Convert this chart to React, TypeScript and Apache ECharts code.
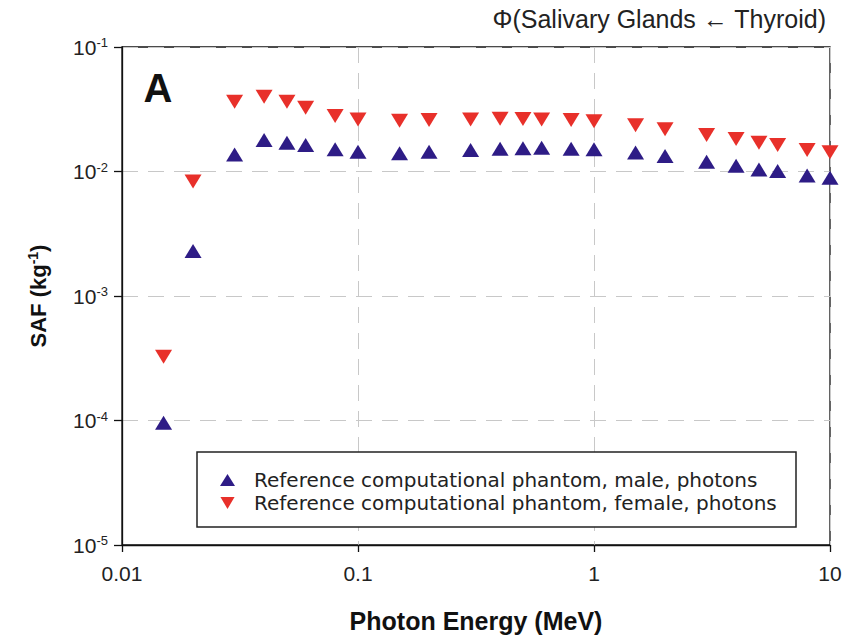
import React, { useEffect, useRef } from "react";
import * as echarts from "echarts";

const energies = [0.015, 0.02, 0.03, 0.04, 0.05, 0.06, 0.08, 0.1, 0.15, 0.2, 0.3, 0.4, 0.5, 0.6, 0.8, 1, 1.5, 2, 3, 4, 5, 6, 8, 10];
const maleSAF = [9.6e-5, 2.3e-3, 0.0137, 0.0179, 0.0170, 0.0163, 0.0151, 0.0144, 0.0140, 0.0144, 0.0149, 0.0152, 0.0154, 0.0155, 0.0152, 0.0151, 0.0142, 0.0133, 0.0120, 0.0111, 0.0104, 0.0101, 0.0093, 0.0089];
const femaleSAF = [3.25e-4, 8.3e-3, 0.0364, 0.0399, 0.0364, 0.0325, 0.0279, 0.0262, 0.0256, 0.0259, 0.0262, 0.0265, 0.0264, 0.0262, 0.0259, 0.0253, 0.0235, 0.0218, 0.0196, 0.0182, 0.0170, 0.0163, 0.0149, 0.0143];

const xTickValues = [0.01, 0.1, 1, 10];
const xTickLabels = ["0.01", "0.1", "1", "10"];
const yTickValues = [1e-5, 1e-4, 1e-3, 1e-2, 1e-1];
const yTickExponents = ["-5", "-4", "-3", "-2", "-1"];

const seriesNames = [
  "Reference computational phantom, male, photons",
  "Reference computational phantom, female, photons",
];
const titleText = "\u03A6(Salivary Glands \u2190 Thyroid)";
const panelLabel = "A";
const xName = "Photon Energy (MeV)";

const nearestIdx = (arr: number[], v: number) => {
  let best = 0;
  let bd = Infinity;
  arr.forEach((a, i) => {
    const d = Math.abs(Math.log10(a) - Math.log10(v));
    if (d < bd) {
      bd = d;
      best = i;
    }
  });
  return { best, bd };
};

export default function App() {
  const ref = useRef<HTMLDivElement>(null);
  useEffect(() => {
    if (!ref.current) return;
    const chart = echarts.init(ref.current, undefined, { renderer: "svg" });
    const font = "'Liberation Sans', Arial, sans-serif";
    const option: any = {
      animation: false,
      backgroundColor: "#ffffff",
      grid: {
        left: 122,
        right: 18,
        top: 47,
        bottom: 98,
        show: true,
        borderColor: "#111",
        borderWidth: 1.3,
        backgroundColor: "transparent",
      },
      xAxis: {
        type: "log",
        logBase: 10,
        min: 0.01,
        max: 10,
        name: xName,
        nameLocation: "middle",
        nameGap: 63,
        nameTextStyle: { fontFamily: font, fontWeight: "bold", fontSize: 25, color: "#111" },
        axisLine: { show: true, lineStyle: { color: "#111", width: 1.3 } },
        axisTick: { show: true, length: 7, lineStyle: { color: "#111", width: 1.3 } },
        axisLabel: {
          margin: 18,
          fontFamily: font,
          fontSize: 21,
          color: "#222",
          formatter: (v: number) => {
            const r = nearestIdx(xTickValues, v);
            return r.bd < 0.01 ? xTickLabels[r.best] : "";
          },
        },
        splitLine: { show: true, lineStyle: { color: "#c8c8c8", type: [16, 10], width: 1 } },
        minorTick: { show: false },
        minorSplitLine: { show: false },
      },
      yAxis: {
        type: "log",
        logBase: 10,
        min: 1e-5,
        max: 0.1,
        name: "{b|SAF (kg}{s|-1}{b|)}",
        nameLocation: "middle",
        nameRotate: 90,
        nameGap: 72,
        nameTextStyle: {
          rich: {
            b: { fontFamily: font, fontWeight: "bold", fontSize: 22, color: "#111" },
            s: { fontFamily: font, fontWeight: "bold", fontSize: 14, color: "#111", verticalAlign: "bottom", padding: [0, 0, 10, 0] },
          },
        },
        axisLine: { show: true, lineStyle: { color: "#111", width: 1.3 } },
        axisTick: { show: true, length: 8, lineStyle: { color: "#111", width: 1.3 } },
        axisLabel: {
          margin: 14,
          formatter: (v: number) => {
            const r = nearestIdx(yTickValues, v);
            return r.bd < 0.01 ? `{b|10}{s|${yTickExponents[r.best]}}` : "";
          },
          rich: {
            b: { fontFamily: font, fontSize: 21, color: "#222" },
            s: { fontFamily: font, fontSize: 13, color: "#222", verticalAlign: "bottom", padding: [0, 0, 9, 0] },
          },
        },
        splitLine: { show: true, lineStyle: { color: "#c8c8c8", type: [16, 10], width: 1 } },
        minorTick: { show: false },
        minorSplitLine: { show: false },
      },
      legend: {
        show: true,
        orient: "vertical",
        left: 215,
        top: 465,
        itemGap: 3,
        itemWidth: 15,
        itemHeight: 12,
        z: 20,
        data: seriesNames,
        textStyle: {
          fontFamily: "'DejaVu Sans', sans-serif",
          fontSize: 20,
          color: "#222",
          padding: [0, 0, 0, 14],
        },
      },
      graphic: [
        {
          type: "rect",
          z: 10,
          shape: { x: 197, y: 452, width: 599, height: 75 },
          style: { fill: "#ffffff", stroke: "#222", lineWidth: 1.5 },
        },
        {
          type: "text",
          z: 10,
          x: 826,
          y: 19,
          style: {
            text: titleText,
            fontFamily: font,
            fontSize: 25,
            fill: "#222",
            textAlign: "right",
            textVerticalAlign: "middle",
          },
        },
        {
          type: "text",
          z: 10,
          x: 158,
          y: 88,
          style: {
            text: panelLabel,
            fontFamily: font,
            fontWeight: "bold",
            fontSize: 40,
            fill: "#111",
            textAlign: "center",
            textVerticalAlign: "middle",
          },
        },
      ],
      series: [
        {
          name: seriesNames[0],
          type: "scatter",
          data: energies.map((e, i) => [e, maleSAF[i]]),
          symbol: "triangle",
          symbolSize: [17, 14],
          itemStyle: { color: "#2E1C86", opacity: 1 },
          z: 5,
        },
        {
          name: seriesNames[1],
          type: "scatter",
          data: energies.map((e, i) => [e, femaleSAF[i]]),
          symbol: "path://M0,0L10,0L5,8.5Z",
          symbolSize: [17, 14],
          itemStyle: { color: "#E8302A", opacity: 1 },
          z: 5,
        },
      ],
    };
    chart.setOption(option);
    return () => chart.dispose();
  }, []);
  return <div ref={ref} style={{ width: 848, height: 643, position: "absolute", left: 0, top: 0 }} />;
}
